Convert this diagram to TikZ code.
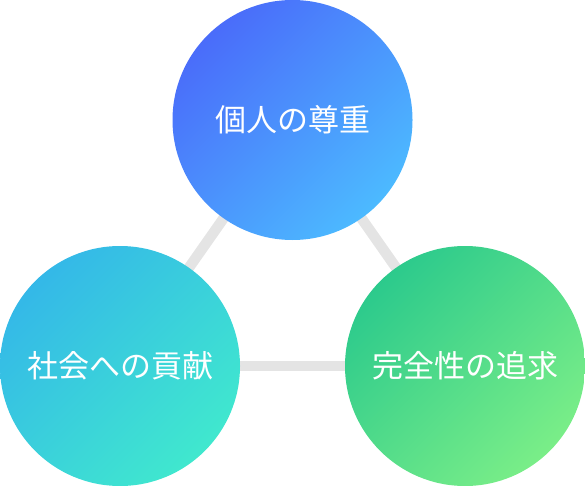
\documentclass[tikz,border=0pt]{standalone}
\usepackage{fontspec}
\usetikzlibrary{backgrounds}
\newfontfamily\jpfont{Noto Sans CJK JP}
\definecolor{linkgray}{RGB}{228, 228, 228}
\definecolor{blueA}{RGB}{74, 108, 250}
\definecolor{blueB}{RGB}{76, 186, 255}
\definecolor{cyanA}{RGB}{52, 184, 232}
\definecolor{cyanB}{RGB}{64, 232, 206}
\definecolor{greenA}{RGB}{44, 202, 140}
\definecolor{greenB}{RGB}{122, 238, 136}

\begin{document}
\begin{tikzpicture}[x=1pt, y=-1pt,
    value/.style={circle, minimum size=240pt, inner sep=0pt, outer sep=0pt,
        text=white, font=\jpfont\fontsize{31}{34}\selectfont},
    link/.style={linkgray, line width=10.5pt}]
    \useasboundingbox (0,0) rectangle (585,486);

    % The three values
    \node[value, top color=blueA, bottom color=blueB, shading angle=45] (respect) at (292.5,120) {個人の尊重};
    \node[value, top color=cyanA, bottom color=cyanB, shading angle=45] (society) at (120,366) {社会への貢献};
    \node[value, top color=greenA, bottom color=greenB, shading angle=45] (perfection) at (465,366) {完全性の追求};

    % Links behind the circles
    \begin{scope}[on background layer]
        \draw[link] (respect.center) -- (society.center);
        \draw[link] (respect.center) -- (perfection.center);
        \draw[link] (society.center) -- (perfection.center);
    \end{scope}
\end{tikzpicture}
\end{document}
